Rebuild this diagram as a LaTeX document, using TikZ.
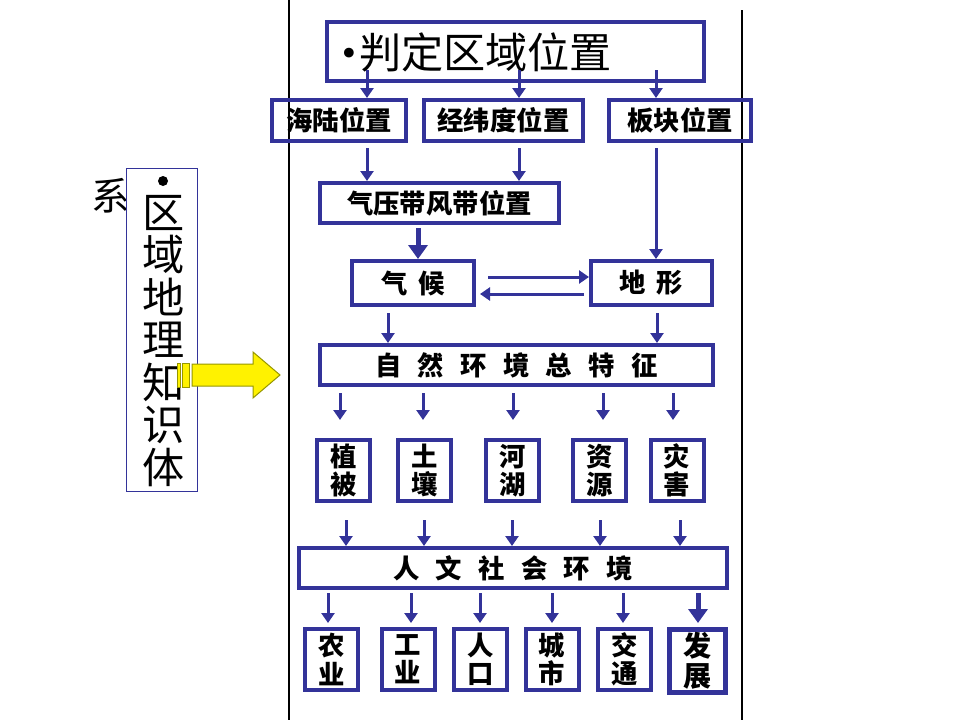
\documentclass[tikz,border=0pt]{standalone}
\usepackage{fontspec}
\setmainfont{Noto Sans CJK SC}
\newfontfamily\dvs{DejaVu Sans}
\usepackage{tikz}
\usetikzlibrary{arrows.meta,calc}
\newlength\pxu
\setlength\pxu{0.02cm}
\definecolor{boxblue}{RGB}{51,51,153}
\definecolor{arrolive}{RGB}{150,150,0}
\newcommand\cjksp{\hspace{0.62em}}
\newcommand\bul[1]{{\dvs\fontsize{#1}{#1}\selectfont •}}
\tikzset{
  bbox/.style={draw=boxblue, line width=4\pxu, inner sep=0pt, font=\fontsize{15}{16}\selectfont\bfseries},
  vbox/.style={bbox, minimum width=53\pxu, minimum height=61\pxu, align=center},
  arr/.style={-{Triangle[length=2mm,width=2.6mm]}, boxblue, line width=3\pxu},
  tarr/.style={-{Triangle[length=2.8mm,width=3.8mm]}, boxblue, line width=5\pxu},
  sepl/.style={black, line width=1.5\pxu},
  yarr/.style={fill=yellow, draw=arrolive, line width=1\pxu},
}
\begin{document}
\begin{tikzpicture}[x=\pxu,y=-\pxu]
  \useasboundingbox (0,0) rectangle (960,720);
  \draw[sepl] (289,0) -- (289,720);
  \draw[sepl] (742,10) -- (742,720);
  % left column
  \node[font=\fontsize{22}{22}\selectfont, inner sep=0pt] (xi) at (111,196) {系};
  \node[draw=boxblue, line width=1\pxu, fill=white, minimum width=71\pxu, minimum height=323\pxu, inner sep=0pt] (kbox) at (162,330) {};
  \node[circle, fill=black, minimum size=10\pxu, inner sep=0pt] (kdot) at (163,181) {};
  \node[align=center, font=\fontsize{24}{24.2}\selectfont, inner sep=0pt] (ktxt) at (164,341) {区\\域\\地\\理\\知\\识\\体};
  \filldraw[yarr] (177,363) rectangle (180,387);
  \filldraw[yarr] (182,363) rectangle (189,387);
  \filldraw[yarr] (192,364) -- (253,364) -- (253,352) -- (280,375) -- (253,398) -- (253,386) -- (192,386) -- cycle;
  % location
  \node[bbox, minimum width=377\pxu, minimum height=59\pxu] (title) at (515.5,51.5) {};
  \node[anchor=west, inner sep=0pt, font=\fontsize{24}{24}\selectfont] (ttxt) at (339,52) {\raisebox{1.5pt}{\bul{19}}判定区域位置};
  \node[bbox, minimum width=134\pxu, minimum height=41\pxu] (hl) at (339,120.5) {海陆位置};
  \node[bbox, minimum width=159\pxu, minimum height=41\pxu] (jw) at (503.5,120.5) {经纬度位置};
  \node[bbox, minimum width=142\pxu, minimum height=41\pxu] (bk) at (680,120.5) {板块位置};
  \node[bbox, minimum width=239\pxu, minimum height=40\pxu] (qy) at (439.5,203) {气压带风带位置};
  \node[bbox, minimum width=122\pxu, minimum height=44\pxu] (qh) at (413,283) {气\hspace{0.4em}候};
  \node[bbox, minimum width=121\pxu, minimum height=44\pxu] (dx) at (651.5,283) {地\hspace{0.4em}形};
  \node[bbox, minimum width=393\pxu, minimum height=40\pxu] (zr) at (516.5,365) {自\cjksp 然\cjksp 环\cjksp 境\cjksp 总\cjksp 特\cjksp 征};
  % natural elements
  \node[vbox] (zb) at (343.5,470.5) {植\\被};
  \node[vbox] (tr) at (424.5,470.5) {土\\壤};
  \node[vbox] (hh) at (512.5,470.5) {河\\湖};
  \node[vbox] (zy) at (599.5,470.5) {资\\源};
  \node[vbox] (zh) at (677,470.5) {灾\\害};
  \node[bbox, minimum width=428\pxu, minimum height=40\pxu] (rw) at (513,568) {人\cjksp 文\cjksp 社\cjksp 会\cjksp 环\cjksp 境};
  % human elements
  \node[vbox] (ny) at (331.5,659.5) {农\\业};
  \node[vbox] (gy) at (408,659.5) {工\\业};
  \node[vbox] (rk) at (480.5,659.5) {人\\口};
  \node[vbox] (cs) at (552,659.5) {城\\市};
  \node[vbox] (jt) at (624.5,659.5) {交\\通};
  \node[vbox, line width=5\pxu, minimum width=56\pxu, minimum height=63\pxu, font=\fontsize{16}{17}\selectfont\bfseries] (fz) at (697.5,661) {发\\展};
  % connectors
  \foreach \nd/\xx in {hl/367,jw/519,bk/656}
    \draw[arr] ($(title.south -| \xx,0)+(0,-13)$) -- (\nd.north -| \xx,0);
  \draw[arr] ($(hl.south -| 367,0)+(0,5)$) -- (qy.north -| 367,0);
  \draw[arr] ($(jw.south -| 519,0)+(0,5)$) -- (qy.north -| 519,0);
  \draw[arr] ($(bk.south -| 656,0)+(0,5)$) -- (dx.north -| 656,0);
  \draw[tarr] ($(qy.south -| 418,0)+(0,3)$) -- (qh.north -| 418,0);
  \draw[arr] ($(qh.east)+(12,-6)$) -- ($(dx.west)+(0,-6)$);
  \draw[arr] ($(dx.west)+(-5,11)$) -- ($(qh.east)+(4,11)$);
  \draw[arr] ($(qh.south -| 388,0)+(0,6)$) -- (zr.north -| 388,0);
  \draw[arr] ($(dx.south -| 657,0)+(0,6)$) -- (zr.north -| 657,0);
  \foreach \nd/\xx in {zb/340,tr/423,hh/513,zy/603,zh/673}
    \draw[arr, shorten >=18\pxu] ($(zr.south -| \xx,0)+(0,6)$) -- (\nd.north -| \xx,0);
  \foreach \nd/\xx in {zb/346,tr/424,hh/512,zy/600,zh/680}
    \draw[arr] ($(\nd.south -| \xx,0)+(0,17)$) -- (rw.north -| \xx,0);
  \foreach \nd/\xx in {ny/328,gy/411,rk/480,cs/552,jt/623}
    \draw[arr, shorten >=4\pxu] ($(rw.south -| \xx,0)+(0,3)$) -- (\nd.north -| \xx,0);
  \draw[tarr, shorten >=4\pxu] ($(rw.south -| 698,0)+(0,3)$) -- (fz.north -| 698,0);
\end{tikzpicture}
\end{document}
